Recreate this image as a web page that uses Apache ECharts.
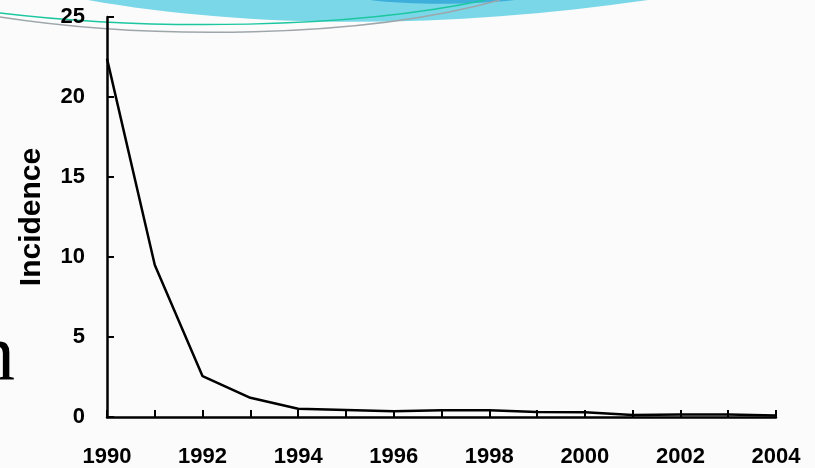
<!DOCTYPE html>
<html>
<head>
<meta charset="utf-8">
<title>Incidence 1990-2004</title>
<script src="https://cdn.jsdelivr.net/npm/echarts@6/dist/echarts.min.js"></script>
<style>
    html, body {
        margin: 0;
        padding: 0;
        background: #fbfbfb;
    }
    #main {
        width: 815px;
        height: 468px;
    }
</style>
</head>
<body>
<div id="main"></div>
<script>
    // years on the x axis, one tick per year, label every second year
    var years = ['1990', '1991', '1992', '1993', '1994', '1995', '1996', '1997',
        '1998', '1999', '2000', '2001', '2002', '2003', '2004'];

    // incidence
    var incidence = [22.4, 9.5, 2.55, 1.2, 0.52, 0.44, 0.36, 0.42,
        0.42, 0.32, 0.3, 0.12, 0.15, 0.15, 0.1];

    // y axis ticks
    var yMin = 0;
    var yMax = 25;
    var yStep = 5;

    var labelFont = {
        color: '#000',
        fontFamily: 'Liberation Sans, Arial, sans-serif',
        fontWeight: 'bold',
        fontSize: 22
    };

    /**
     * curve piece of the slide decoration
     *
     * @param {number[]} p   x1, y1, cpx1, cpy1, cpx2, cpy2, x2, y2
     * @param {Object} style zrender style
     * @param {number} z     z order
     * @return {Object} graphic element
     */
    function curve(p, style, z) {
        return {
            type: 'bezierCurve',
            z: z,
            silent: true,
            shape: {
                x1: p[0], y1: p[1],
                cpx1: p[2], cpy1: p[3],
                cpx2: p[4], cpy2: p[5],
                x2: p[6], y2: p[7]
            },
            style: style
        };
    }

    var chart = echarts.init(document.getElementById('main'));

    chart.setOption({
        backgroundColor: '#fbfbfb',
        animation: false,
        grid: {
            left: 107,
            right: 39,
            top: 17,
            bottom: 51,
            containLabel: false,
            outerBoundsMode: 'none'
        },
        xAxis: {
            type: 'category',
            data: years,
            boundaryGap: false,
            axisLine: {
                lineStyle: {color: '#000', width: 2.5}
            },
            axisTick: {
                inside: true,
                length: 7,
                interval: 0,
                lineStyle: {color: '#000', width: 2}
            },
            axisLabel: Object.assign({
                interval: 1,
                margin: 29
            }, labelFont),
            splitLine: {show: false}
        },
        yAxis: {
            type: 'value',
            min: yMin,
            max: yMax,
            interval: yStep,
            name: 'Incidence',
            nameLocation: 'middle',
            nameGap: 60,
            nameRotate: 90,
            nameMoveOverlap: false,
            nameTextStyle: {
                color: '#000',
                fontFamily: 'Liberation Sans, Arial, sans-serif',
                fontWeight: 'bold',
                fontSize: 30
            },
            axisLine: {
                show: true,
                lineStyle: {color: '#000', width: 2.5}
            },
            axisTick: {
                show: true,
                inside: true,
                length: 7,
                lineStyle: {color: '#000', width: 2}
            },
            axisLabel: Object.assign({margin: 22}, labelFont),
            splitLine: {show: false}
        },
        series: [{
            type: 'line',
            data: incidence,
            showSymbol: false,
            symbol: 'none',
            lineStyle: {color: '#000', width: 2.5},
            z: 3
        }],
        // slide decoration behind the chart
        graphic: {
            elements: [
                curve([88, 0, 250, 29, 450, 29, 648, 0], {fill: '#7ad7e8', stroke: null}, -10),
                curve([370, 0, 410, 5, 470, 5, 515, 0], {fill: '#3eaedb', stroke: null}, -9),
                curve([0, 13, 150, 31, 350, 29, 485, 0], {fill: null, stroke: '#1cc7a0', lineWidth: 1.5}, -8),
                curve([0, 17, 150, 40, 360, 39, 500, 0], {fill: null, stroke: '#9ea6aa', lineWidth: 1.5}, -8),
                {
                    type: 'text',
                    z: -8,
                    left: -25,
                    top: 318,
                    silent: true,
                    style: {
                        text: 'n',
                        fill: '#000',
                        font: '80px "Liberation Serif", "Times New Roman", serif'
                    }
                }
            ]
        }
    });
</script>
</body>
</html>
